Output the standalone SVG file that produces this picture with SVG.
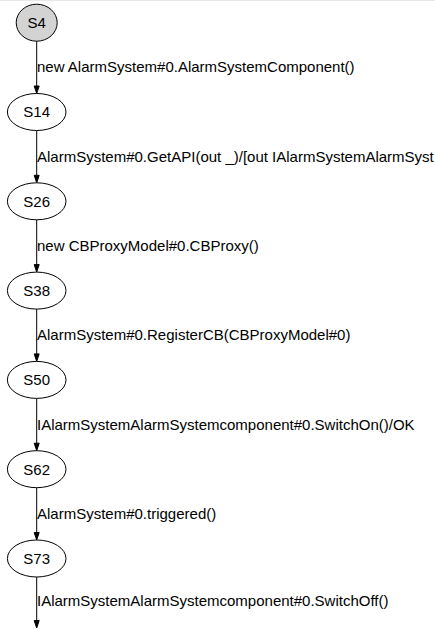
<svg xmlns="http://www.w3.org/2000/svg" width="435" height="629" viewBox="0 0 435 629">
  <style>
    .node ellipse { fill: #ffffff; stroke: #000000; stroke-width: 1; }
    .node.start ellipse { fill: #d3d3d3; }
    .node text { font-family: "Liberation Sans", Arial, sans-serif; font-size: 15px; text-anchor: middle; fill: #000000; }
    .edge line { stroke: #000000; stroke-width: 1; }
    .edge polygon { fill: #000000; stroke: #000000; stroke-width: 1; }
    .edge text { font-family: "Liberation Sans", Arial, sans-serif; font-size: 15px; fill: #000000; }
  </style>
  <rect x="0" y="0" width="435" height="629" fill="#ffffff"/>
  <line x1="0" y1="0.5" x2="435" y2="0.5" stroke="#e8e8e8" stroke-width="1"/>

  <g id="connectors">
    <g class="edge" id="e_S4_S14">
      <line x1="36.7" y1="41.2" x2="36.7" y2="86"/>
      <polygon points="34.2,86 39.2,86 36.7,93.5"/>
      <text x="37" y="72.4">new AlarmSystem#0.AlarmSystemComponent()</text>
    </g>
    <g class="edge" id="e_S14_S26">
      <line x1="36.7" y1="130.5" x2="36.7" y2="175.3"/>
      <polygon points="34.2,175.3 39.2,175.3 36.7,182.8"/>
      <text x="37" y="161.7">AlarmSystem#0.GetAPI(out _)/[out IAlarmSystemAlarmSyst</text>
    </g>
    <g class="edge" id="e_S26_S38">
      <line x1="36.7" y1="219.8" x2="36.7" y2="264.6"/>
      <polygon points="34.2,264.6 39.2,264.6 36.7,272.1"/>
      <text x="37" y="251">new CBProxyModel#0.CBProxy()</text>
    </g>
    <g class="edge" id="e_S38_S50">
      <line x1="36.7" y1="309.1" x2="36.7" y2="353.9"/>
      <polygon points="34.2,353.9 39.2,353.9 36.7,361.4"/>
      <text x="37" y="340.3">AlarmSystem#0.RegisterCB(CBProxyModel#0)</text>
    </g>
    <g class="edge" id="e_S50_S62">
      <line x1="36.7" y1="398.4" x2="36.7" y2="443.2"/>
      <polygon points="34.2,443.2 39.2,443.2 36.7,450.7"/>
      <text x="37" y="429.6">IAlarmSystemAlarmSystemcomponent#0.SwitchOn()/OK</text>
    </g>
    <g class="edge" id="e_S62_S73">
      <line x1="36.7" y1="487.7" x2="36.7" y2="532.5"/>
      <polygon points="34.2,532.5 39.2,532.5 36.7,540"/>
      <text x="37" y="518.9">AlarmSystem#0.triggered()</text>
    </g>
    <g class="edge" id="e_S73_next">
      <line x1="36.7" y1="577" x2="36.7" y2="620.5"/>
      <polygon points="34.2,620.5 39.2,620.5 36.7,628"/>
      <text x="37" y="606">IAlarmSystemAlarmSystemcomponent#0.SwitchOff()</text>
    </g>
  </g>

  <g id="S4" class="node start">
    <ellipse cx="36.7" cy="22.7" rx="20.5" ry="18.5"/>
    <text x="36.7" y="28">S4</text>
  </g>
  <g id="S14" class="node">
    <ellipse cx="36.7" cy="112" rx="29.3" ry="18.5"/>
    <text x="36.7" y="117.3">S14</text>
  </g>
  <g id="S26" class="node">
    <ellipse cx="36.7" cy="201.3" rx="29.3" ry="18.5"/>
    <text x="36.7" y="206.6">S26</text>
  </g>
  <g id="S38" class="node">
    <ellipse cx="36.7" cy="290.6" rx="29.3" ry="18.5"/>
    <text x="36.7" y="295.9">S38</text>
  </g>
  <g id="S50" class="node">
    <ellipse cx="36.7" cy="379.9" rx="29.3" ry="18.5"/>
    <text x="36.7" y="385.2">S50</text>
  </g>
  <g id="S62" class="node">
    <ellipse cx="36.7" cy="469.2" rx="29.3" ry="18.5"/>
    <text x="36.7" y="474.5">S62</text>
  </g>
  <g id="S73" class="node">
    <ellipse cx="36.7" cy="558.5" rx="29.3" ry="18.5"/>
    <text x="36.7" y="563.8">S73</text>
  </g>
</svg>
